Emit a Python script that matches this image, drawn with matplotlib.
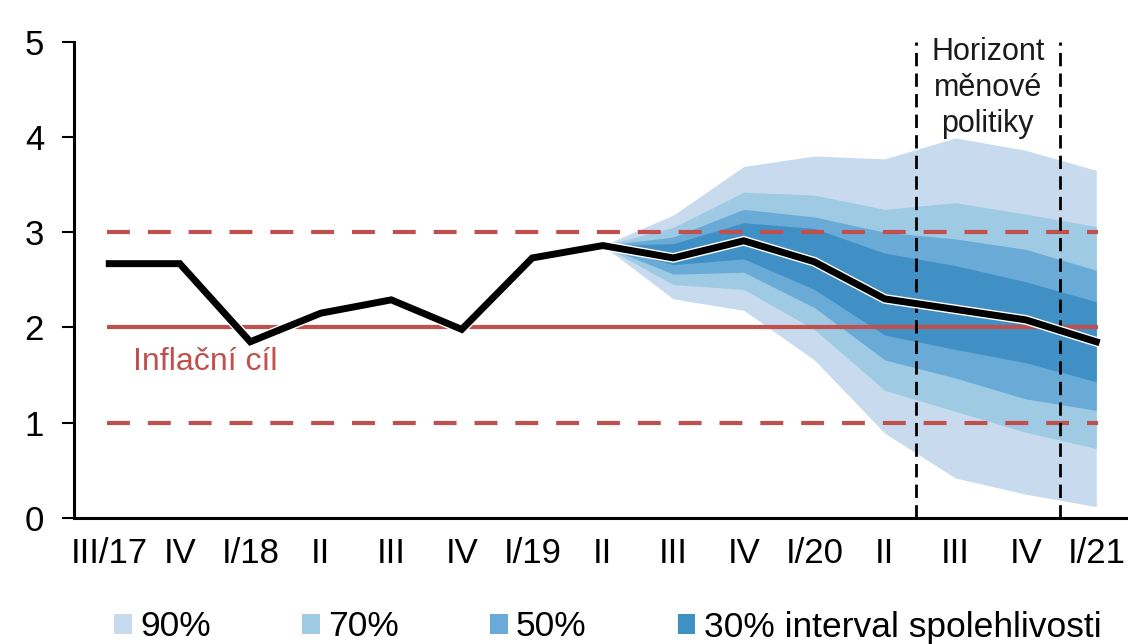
import matplotlib
matplotlib.use("Agg")
import matplotlib.pyplot as plt
from matplotlib.patches import Patch
import matplotlib.patheffects as pe

plt.rcParams['font.family'] = ['Liberation Sans', 'DejaVu Sans']

categories = ["III/17", "IV", "I/18", "II", "III", "IV", "I/19", "II",
              "III", "IV", "I/20", "II", "III", "IV", "I/21"]
inflation = [2.67, 2.67, 1.85, 2.15, 2.29, 1.98, 2.73, 2.86,
             2.73, 2.91, 2.69, 2.30, 2.19, 2.08, 1.85]

fan_start = 7
lo90 = [2.86, 2.30, 2.18, 1.66, 0.89, 0.42, 0.25, 0.12]
hi90 = [2.86, 3.18, 3.69, 3.80, 3.77, 3.99, 3.86, 3.65]
lo70 = [2.86, 2.45, 2.40, 1.98, 1.34, 1.12, 0.90, 0.73]
hi70 = [2.86, 3.05, 3.42, 3.39, 3.24, 3.31, 3.19, 3.06]
lo50 = [2.86, 2.56, 2.58, 2.21, 1.66, 1.47, 1.25, 1.13]
hi50 = [2.86, 2.95, 3.24, 3.16, 3.00, 2.93, 2.82, 2.60]
lo30 = [2.86, 2.66, 2.72, 2.40, 1.92, 1.77, 1.63, 1.43]
hi30 = [2.86, 2.88, 3.10, 3.04, 2.78, 2.65, 2.48, 2.27]

band_labels = ["90%", "70%", "50%", "30% interval spolehlivosti"]
band_colors = ["#c8dbee", "#9fcae4", "#6aaad7", "#4090c5"]

target = 2.0
tolerance = [1.0, 3.0]
horizon = [11.45, 13.48]
yticks = [0, 1, 2, 3, 4, 5]

RED = "#c0504d"

fig = plt.figure(figsize=(11.28, 6.44), dpi=100)
W, H = 1128, 644
ax = fig.add_axes([74 / W, (H - 518) / H, (W - 74) / W, (518 - 41.7) / H])

x = list(range(len(categories)))
xf = x[fan_start:]

for (lo, hi), c in zip([(lo90, hi90), (lo70, hi70), (lo50, hi50), (lo30, hi30)], band_colors):
    ax.fill_between(xf, lo, hi, color=c, lw=0, zorder=1)

x0, x1 = x[0] - 0.03, x[-1] + 0.03
ax.plot([x0, x1], [target, target], color=RED, lw=3.0, solid_capstyle='butt', zorder=2)
for t in tolerance:
    ax.plot([x0, x1], [t, t], color=RED, lw=3.0, dashes=(5.5, 4.3), zorder=2)

for h in horizon:
    ax.plot([h, h], [0, 5], color='black', lw=2.0, dashes=(4.8, 2.6), zorder=3)

ax.plot(x, inflation, color='black', lw=5, solid_joinstyle='miter', zorder=4,
        path_effects=[pe.Stroke(linewidth=7, foreground='white'), pe.Normal()])

ax.text(0.34, 1.64, "Inflační cíl", color=RED, fontsize=23, ha='left', va='center')
ax.text(12.46, 5.05, "Horizont\nměnové\npolitiky", color='#1a1a1a', fontsize=22,
        ha='center', va='top', linespacing=1.27, zorder=5)

ax.set_xlim(-0.5, 14.45)
ax.set_ylim(0, 5)
ax.set_yticks(yticks)
ax.set_yticklabels([str(v) for v in yticks])
ax.set_xticks(x)
ax.set_xticklabels(categories)

for s in ['top', 'right']:
    ax.spines[s].set_visible(False)
for s in ['left', 'bottom']:
    ax.spines[s].set_linewidth(2.2)
ax.tick_params(axis='y', direction='out', length=8.6, width=1.5, labelsize=25, pad=13)
ax.tick_params(axis='x', length=0, labelsize=25, pad=14)
ax.set_facecolor('white')

handles = [Patch(facecolor=c, edgecolor='none', label=l) for c, l in zip(band_colors, band_labels)]
leg = fig.legend(handles=handles, loc='center left', bbox_to_anchor=(114 / W, 1 - 627 / H),
                 ncol=4, frameon=False, fontsize=25.5, handlelength=0.5, handleheight=0.5,
                 handletextpad=0.24, columnspacing=2.57, borderpad=0, borderaxespad=0)

fig.savefig("out.png", dpi=100, facecolor='white')
